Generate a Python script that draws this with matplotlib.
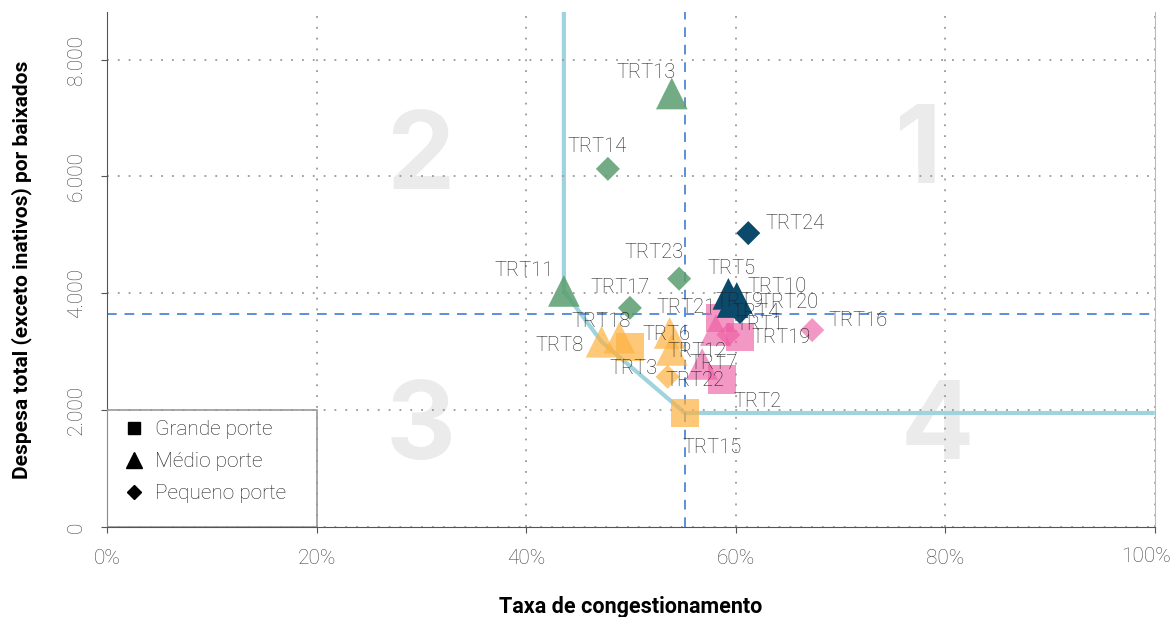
import numpy as np
import matplotlib
matplotlib.use("Agg")
import matplotlib.pyplot as plt
from matplotlib.lines import Line2D
from matplotlib.patches import Rectangle

plt.rcParams['font.family'] = ['Roboto', 'DejaVu Sans']

# dados (taxa de congestionamento em %, despesa por baixado)
tribunais = ['TRT1', 'TRT2', 'TRT3', 'TRT4', 'TRT5', 'TRT6', 'TRT7', 'TRT8',
             'TRT9', 'TRT10', 'TRT11', 'TRT12', 'TRT13', 'TRT14', 'TRT15',
             'TRT16', 'TRT17', 'TRT18', 'TRT19', 'TRT20', 'TRT21', 'TRT22',
             'TRT23', 'TRT24']
taxa = [60.4, 58.7, 49.9, 58.5, 59.3, 53.9, 58.1, 47.2,
        59.7, 60.1, 43.6, 56.8, 53.9, 47.8, 55.15,
        67.3, 49.9, 48.9, 59.3, 60.4, 53.7, 53.5,
        54.6, 61.2]
despesa = [3250, 2520, 3080, 3580, 3990, 3030, 3370, 3170,
           3850, 3920, 4040, 2790, 7420, 6130, 1950,
           3370, 3750, 3240, 3290, 3680, 3320, 2570,
           4250, 5030]
porte = ['Grande', 'Grande', 'Grande', 'Grande', 'Médio', 'Médio', 'Médio', 'Médio',
         'Médio', 'Médio', 'Médio', 'Médio', 'Médio', 'Pequeno', 'Grande',
         'Pequeno', 'Pequeno', 'Médio', 'Pequeno', 'Pequeno', 'Médio', 'Pequeno',
         'Pequeno', 'Pequeno']
quadrante = [4, 4, 3, 4, 1, 3, 4, 3,
             1, 1, 2, 4, 2, 2, 3,
             4, 2, 3, 4, 1, 3, 3,
             2, 1]
mediana_taxa = 55.2
mediana_despesa = 3650
fronteira = ['TRT11', 'TRT8', 'TRT15']
xticks = [0, 20, 40, 60, 80, 100]
xticklabels = ['0%', '20%', '40%', '60%', '80%', '100%']
yticks = [0, 2000, 4000, 6000, 8000]
yticklabels = ['0', '2.000', '4.000', '6.000', '8.000']

# estilos
cores = {1: '#0b4a6b', 2: '#5a9e6f', 3: '#fdb240', 4: '#ee5fa5'}
alfas = {1: 1.0, 2: 0.85, 3: 0.7, 4: 0.65}
marcadores = {'Grande': 's', 'Médio': '^', 'Pequeno': 'D'}
tamanhos = {'Grande': 420, 'Médio': 520, 'Pequeno': 150}

# deslocamento dos rótulos (pixels)
desloc = {'TRT1': (20, 13), 'TRT2': (35, -22), 'TRT3': (4, -21), 'TRT4': (36, 5),
          'TRT5': (3, 25), 'TRT6': (-5, 15), 'TRT7': (-2, -33), 'TRT8': (-42, -4),
          'TRT9': (7, 1), 'TRT10': (40, 11), 'TRT11': (-40, 20), 'TRT12': (-5, 12),
          'TRT13': (-26, 21), 'TRT14': (-11, 22), 'TRT15': (27, -34), 'TRT16': (46, 10),
          'TRT17': (-10, 20), 'TRT18': (-18, 16), 'TRT19': (53, -3), 'TRT20': (49, 9),
          'TRT21': (16, 25), 'TRT22': (27, -4), 'TRT23': (-25, 26), 'TRT24': (47, 10)}

fig = plt.figure(figsize=(11.76, 6.17), dpi=100)
ax = fig.add_axes([0.091, 0.146, 0.891, 0.835])
xmax, ymax = 100, 8820
ax.set_xlim(0, xmax)
ax.set_ylim(0, ymax)

# números dos quadrantes
for q, (qx, qy) in {1: (77.3, 6370), 2: (29.9, 6280), 3: (29.9, 1650), 4: (79.2, 1650)}.items():
    ax.text(qx, qy, str(q), fontsize=78, fontweight='bold', color='#ebebeb',
            ha='center', va='center', zorder=0, family=['Inter', 'DejaVu Sans'])

ax.grid(True, linestyle=(0, (1, 5)), color='#999999', lw=1.3, zorder=0.5)

# fronteira
idx = [tribunais.index(t) for t in fronteira]
fx = [taxa[idx[0]]] + [taxa[i] for i in idx] + [xmax]
fy = [ymax] + [despesa[i] for i in idx] + [despesa[idx[-1]]]
ax.plot(fx, fy, color='#9fd3de', lw=3, zorder=1, solid_capstyle='butt')

ax.axvline(mediana_taxa, color='#5b8fd6', lw=1.4, ls=(0, (5, 4)), zorder=1.5)
ax.axhline(mediana_despesa, color='#5b8fd6', lw=1.4, ls=(0, (5, 4)), zorder=1.5)

for i, t in enumerate(tribunais):
    q = quadrante[i]
    ax.scatter(taxa[i], despesa[i], marker=marcadores[porte[i]], s=tamanhos[porte[i]],
               color=cores[q], alpha=alfas[q], edgecolors='none', zorder=2)
for i, t in enumerate(tribunais):
    ax.annotate(t, (taxa[i], despesa[i]), xytext=desloc[t], textcoords='offset pixels',
                ha='center', va='center', fontsize=14.5, color='#222222',
                fontweight='light', zorder=5)

# legenda
ax.add_patch(Rectangle((0, 0), 20, 2000, fill=False, edgecolor='#999999', lw=1.2, zorder=3))
handles = [Line2D([], [], marker=marcadores[p], color='black', ls='none',
                  markersize={'Grande': 9, 'Médio': 11, 'Pequeno': 7}[p])
           for p in ['Grande', 'Médio', 'Pequeno']]
ax.legend(handles, ['Grande porte', 'Médio porte', 'Pequeno porte'],
          loc='upper left', bbox_to_anchor=(-0.002, 0.243), frameon=False,
          labelspacing=0.62, handletextpad=0.5, handlelength=1.0,
          prop={'weight': 'light', 'size': 15})
for txt in ax.get_legend().get_texts():
    txt.set_color('#222222')

# eixos (o último rótulo do eixo x é deslocado para caber na figura)
ax.set_xticks(xticks)
ax.set_xticklabels(xticklabels[:-1] + [''])
ax.annotate(xticklabels[-1], (xticks[-1], 0), xytext=(-9, -30), textcoords='offset pixels',
            ha='center', va='center', fontsize=15, fontweight='light', color='#444444',
            annotation_clip=False)
ax.set_yticks(yticks)
ax.set_yticklabels(yticklabels, rotation=90, va='center')
for lab in ax.get_xticklabels() + ax.get_yticklabels():
    lab.set_fontsize(15)
    lab.set_fontweight('light')
    lab.set_color('#444444')
ax.tick_params(axis='x', length=4, color='#555555', pad=12)
ax.tick_params(axis='y', length=4, color='#555555', pad=11)

ax.spines['top'].set_visible(False)
ax.spines['right'].set_color('#bbbbbb')
ax.spines['left'].set_color('#555555')
ax.spines['bottom'].set_color('#555555')

ax.set_xlabel('Taxa de congestionamento', fontsize=15.5, fontweight='bold', labelpad=20)
ax.set_ylabel('Despesa total (exceto inativos) por baixados', fontsize=15,
              fontweight='bold', labelpad=25)

fig.savefig('out.png', dpi=100)
